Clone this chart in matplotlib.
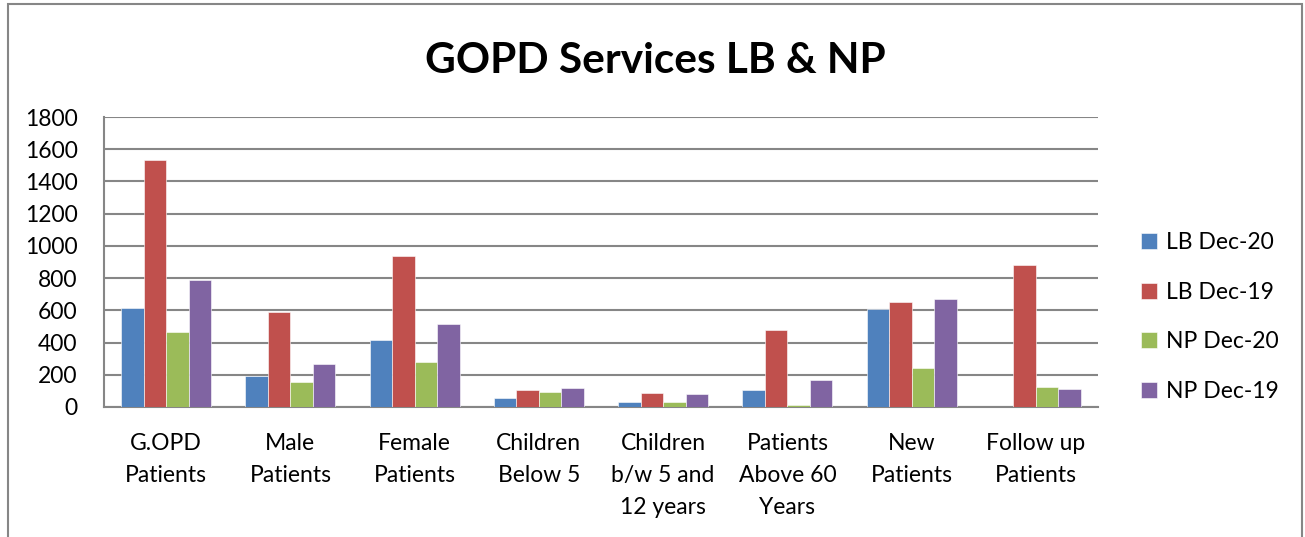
import numpy as np
import matplotlib.pyplot as plt
from matplotlib.patches import Rectangle

plt.rcParams['font.family'] = ['Lato', 'DejaVu Sans']

# Data
categories = ["G.OPD\nPatients", "Male\nPatients", "Female\nPatients", "Children\nBelow 5",
              "Children\nb/w 5 and\n12 years", "Patients\nAbove 60\nYears", "New\nPatients",
              "Follow up\nPatients"]
lb_dec20 = [614, 193, 417, 58, 33, 104, 608, 0]
lb_dec19 = [1535, 591, 940, 108, 87, 481, 651, 882]
np_dec20 = [463, 156, 280, 93, 29, 12, 245, 124]
np_dec19 = [788, 266, 517, 120, 79, 166, 670, 114]

series = [("LB Dec-20", lb_dec20, "#4F81BD"),
          ("LB Dec-19", lb_dec19, "#C0504D"),
          ("NP Dec-20", np_dec20, "#9BBB59"),
          ("NP Dec-19", np_dec19, "#8064A2")]

fig = plt.figure(figsize=(13.05, 5.37), dpi=100)
ax = fig.add_axes([0.0797, 0.2421, 0.7617, 0.54])

x = np.arange(len(categories))
w = 0.181
for i, (name, vals, color) in enumerate(series):
    ax.bar(x + (i - 1.5) * w, vals, width=w, color=color, label=name,
           edgecolor="#ffffff", linewidth=0.4, zorder=3)

ax.set_xlim(-0.5, len(categories) - 0.5)
ax.set_ylim(0, 1800)
ax.set_yticks(range(0, 1801, 200))
ax.yaxis.grid(True, color="#868686", linewidth=1.5, zorder=0)
ax.set_axisbelow(True)
ax.set_xticks(x)
ax.set_xticklabels(categories, fontsize=16.5, linespacing=1.64)
ax.tick_params(axis="y", labelsize=16.5, length=0, pad=19)
ax.tick_params(axis="x", length=0, pad=19)

for side in ["top", "right"]:
    ax.spines[side].set_visible(False)
for side in ["left", "bottom"]:
    ax.spines[side].set_color("#868686")
    ax.spines[side].set_linewidth(1.5)

fig.suptitle("GOPD Services LB & NP", fontsize=30.5, fontweight="bold", x=0.502, y=0.922)

ax.legend(loc="center left", bbox_to_anchor=(1.022, 0.31), frameon=False, fontsize=16.5,
          handlelength=0.7, handleheight=0.7, handletextpad=0.4, labelspacing=1.25)

# outer chart border
fig.patches.append(Rectangle((8 / 1305, -0.1), 1294 / 1305, 1.1 - 4 / 537,
                             transform=fig.transFigure, fill=False,
                             edgecolor="#868686", linewidth=1.5))

fig.savefig("out.png", dpi=100)
